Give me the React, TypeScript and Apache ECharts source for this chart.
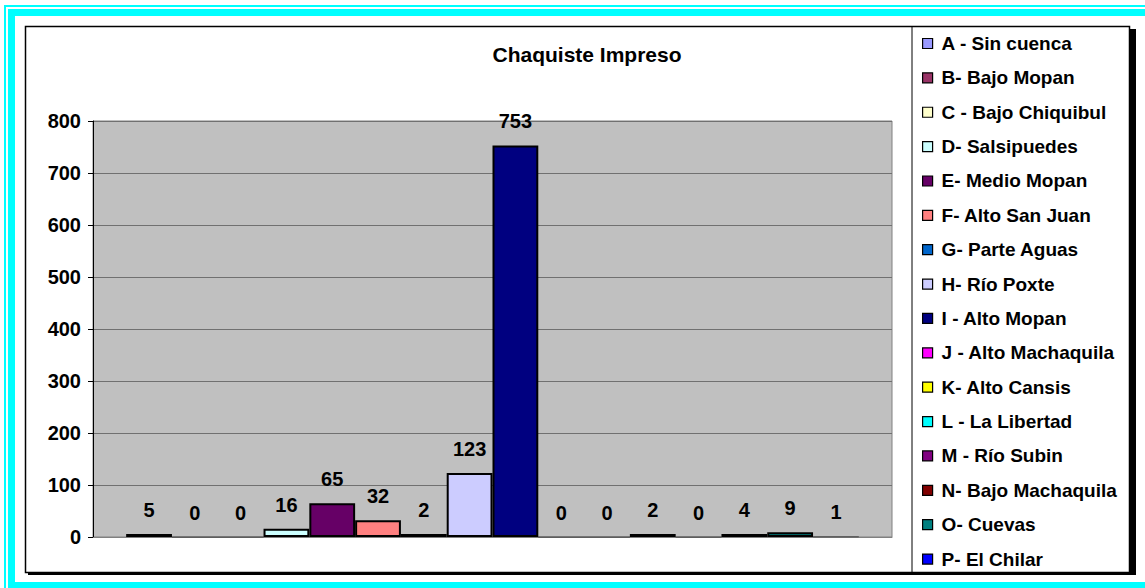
import React, { useEffect, useRef } from "react";
import * as echarts from "echarts";

const title = "Chaquiste Impreso";
const seriesNames = [
  "A - Sin cuenca",
  "B- Bajo Mopan",
  "C - Bajo Chiquibul",
  "D- Salsipuedes",
  "E- Medio Mopan",
  "F- Alto San Juan",
  "G- Parte Aguas",
  "H- Río Poxte",
  "I - Alto Mopan",
  "J - Alto Machaquila",
  "K- Alto Cansis",
  "L - La Libertad",
  "M - Río Subin",
  "N- Bajo Machaquila",
  "O- Cuevas",
  "P- El Chilar",
];
const seriesValues = [5, 0, 0, 16, 65, 32, 2, 123, 753, 0, 0, 2, 0, 4, 9, 1];
const seriesColors = [
  "#9999FF", "#993366", "#FFFFCC", "#CCFFFF", "#660066", "#FF8080", "#0066CC", "#CCCCFF",
  "#000080", "#FF00FF", "#FFFF00", "#00FFFF", "#800080", "#800000", "#008080", "#0000FF",
];
const categories = [""];
const yMin = 0;
const yMax = 800;
const yInterval = 100;

const FONT = "'Liberation Sans', Arial, sans-serif";

export default function App() {
  const ref = useRef<HTMLDivElement>(null);
  useEffect(() => {
    document.body.style.margin = "0";
    const chart = echarts.init(ref.current!, null, { renderer: "svg" });
    const series = seriesNames.map((name, i) => ({
      name,
      type: "bar",
      data: [seriesValues[i]],
      barGap: "0%",
      barCategoryGap: "8.3%",
      barMinHeight: seriesValues[i] > 1 ? 3 : 0,
      itemStyle: {
        color: seriesColors[i],
        borderColor: "#000000",
        borderWidth: seriesValues[i] <= 1 ? 0.3 : 2,
      },
      label: {
        show: true,
        position: "top",
        distance: 14,
        fontFamily: FONT,
        fontWeight: "bold",
        fontSize: 20,
        color: "#000000",
      },
    }));
    chart.setOption({
      animation: false,
      textStyle: { fontFamily: FONT },
      title: {
        text: title,
        left: 582,
        top: 39,
        textAlign: "center",
        textStyle: { fontFamily: FONT, fontWeight: "bold", fontSize: 21, color: "#000" },
      },
      graphic: [
        { type: "rect", z: -100, shape: { x: 5, y: 6, width: 1200, height: 587 }, style: { fill: "none", stroke: "#00FFFF", lineWidth: 2 } },
        { type: "rect", z: -100, shape: { x: 11.5, y: 12.5, width: 1200, height: 573 }, style: { fill: "none", stroke: "#00FFFF", lineWidth: 7 } },
        { type: "rect", z: -100, shape: { x: 28, y: 29, width: 1108, height: 546 }, style: { fill: "#000000" } },
        { type: "rect", z: -99, shape: { x: 25.5, y: 26.5, width: 1104, height: 546 }, style: { fill: "#ffffff", stroke: "#000000", lineWidth: 1.5 } },
        { type: "line", z: -98, shape: { x1: 912, y1: 26, x2: 912, y2: 572 }, style: { stroke: "#000000", lineWidth: 1 } },
      ],
      legend: {
        orient: "vertical",
        left: 917,
        top: 28.5,
        itemWidth: 10,
        itemHeight: 10,
        itemGap: 14.37,
        icon: "rect",
        data: seriesNames,
        itemStyle: { borderColor: "#000000", borderWidth: 1.2 },
        textStyle: {
          fontFamily: FONT,
          fontWeight: "bold",
          fontSize: 19,
          lineHeight: 20,
          color: "#000",
          padding: [0, 0, 0, 4],
        },
      },
      grid: {
        left: 93,
        top: 121,
        right: 253,
        bottom: 51,
        show: true,
        backgroundColor: "#C0C0C0",
        borderColor: "#808080",
        borderWidth: 1,
      },
      xAxis: {
        type: "category",
        data: categories,
        axisLine: { show: true, lineStyle: { color: "#808080", width: 1 } },
        axisTick: { show: false },
        axisLabel: { show: false },
      },
      yAxis: {
        type: "value",
        min: yMin,
        max: yMax,
        interval: yInterval,
        axisLine: { show: true, lineStyle: { color: "#000000", width: 1 } },
        axisTick: { show: true, length: 5, lineStyle: { color: "#000000" } },
        axisLabel: {
          margin: 12,
          fontFamily: FONT,
          fontWeight: "bold",
          fontSize: 20,
          color: "#000",
        },
        splitLine: { show: true, lineStyle: { color: "#707070", width: 1 } },
      },
      series,
    });
    return () => chart.dispose();
  }, []);
  return <div ref={ref} style={{ width: 1145, height: 588 }} />;
}
